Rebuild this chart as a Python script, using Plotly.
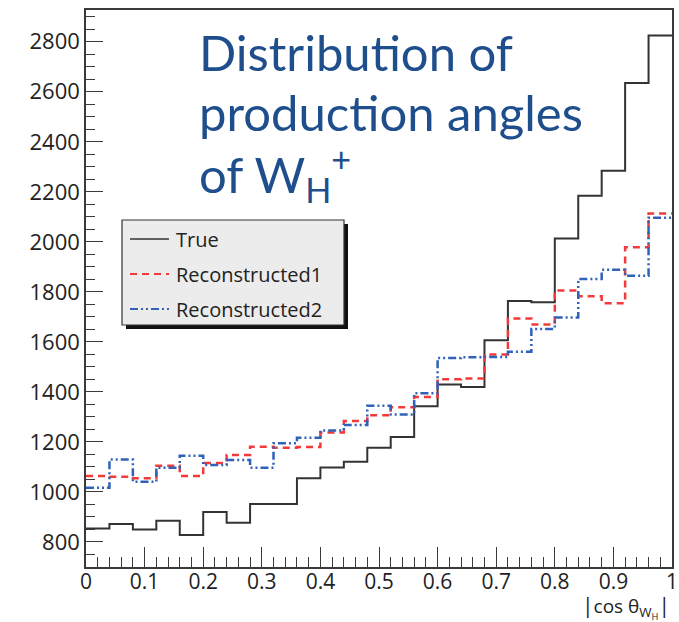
import plotly.graph_objects as go

# ---------------- data ----------------
bin_edges = [round(i * 0.04, 2) for i in range(26)]   # 25 bins on [0, 1]

true_vals = [854, 872, 850, 885, 828, 920, 877, 952, 952, 1055,
             1098, 1121, 1177, 1220, 1343, 1430, 1420, 1607, 1764, 1759,
             2013, 2184, 2284, 2635, 2825]
reco1_vals = [1064, 1061, 1055, 1105, 1064, 1116, 1148, 1181, 1177, 1180,
              1238, 1284, 1307, 1339, 1380, 1451, 1454, 1550, 1694, 1670,
              1806, 1783, 1755, 1978, 2113]
reco2_vals = [1017, 1130, 1041, 1097, 1145, 1108, 1128, 1097, 1195, 1217,
              1246, 1268, 1345, 1310, 1395, 1536, 1539, 1540, 1561, 1652,
              1698, 1851, 1888, 1864, 2096]

series_names = ["True", "Reconstructed1", "Reconstructed2"]

y_tick_vals = [800, 1000, 1200, 1400, 1600, 1800, 2000, 2200, 2400, 2600, 2800]
x_tick_vals = [0, 0.1, 0.2, 0.3, 0.4, 0.5, 0.6, 0.7, 0.8, 0.9, 1.0]
x_tick_text = ["0", "0.1", "0.2", "0.3", "0.4", "0.5", "0.6", "0.7", "0.8", "0.9", "1"]

# ---------------- geometry helpers ----------------
W, H = 679, 622
L, R, T, B = 86, 7, 10, 55
PW, PH = W - L - R, H - T - B


def px(x):
    return (x - L) / PW


def py(y):
    return (H - B - y) / PH


def step(vals):
    return list(vals) + [vals[-1]]


colors = ["#333333", "#f23a3a", "#2f62b8"]
dashes = ["solid", "7px,5px", "8px,3px,2px,3px,2px,3px"]
widths = [2, 2.5, 2.5]

fig = go.Figure()
for name, vals, c, d, w in zip(series_names, [true_vals, reco1_vals, reco2_vals],
                               colors, dashes, widths):
    fig.add_trace(go.Scatter(x=bin_edges, y=step(vals), mode="lines", name=name,
                             line=dict(shape="hv", color=c, dash=d, width=w),
                             showlegend=False, hoverinfo="skip"))

axis_col = "#3a3a3a"
tick_font = dict(family="Open Sans", size=22, color="#222222")

fig.update_xaxes(range=[0, 1], showline=True, linecolor=axis_col, linewidth=1.5, mirror=True,
                 ticks="inside", ticklen=20, tickwidth=1.2, tickcolor=axis_col,
                 tickmode="array", tickvals=x_tick_vals, ticktext=x_tick_text,
                 ticklabelstandoff=-5,
                 minor=dict(dtick=0.02, tick0=0, ticks="inside", ticklen=10,
                            tickcolor=axis_col, tickwidth=1),
                 showgrid=False, zeroline=False,
                 tickfont=dict(family="Open Sans", size=21, color="#222222"))
fig.update_yaxes(range=[700, 2927], showline=True, linecolor=axis_col, linewidth=1.5, mirror=True,
                 ticks="inside", ticklen=17, tickwidth=1.2, tickcolor=axis_col,
                 tickmode="array", tickvals=y_tick_vals,
                 minor=dict(dtick=50, tick0=0, ticks="inside", ticklen=9,
                            tickcolor=axis_col, tickwidth=1),
                 showgrid=False, zeroline=False, tickfont=tick_font)

shapes = []
annotations = []

# legend box with shadow
lx0, lx1, ly0, ly1 = 122, 344, 220, 325
shapes.append(dict(type="rect", xref="paper", yref="paper",
                   x0=px(lx0 + 4), x1=px(lx1 + 4), y0=py(ly1 + 4), y1=py(ly0 + 4),
                   fillcolor="#111111", line=dict(width=0), layer="above"))
shapes.append(dict(type="rect", xref="paper", yref="paper",
                   x0=px(lx0), x1=px(lx1), y0=py(ly1), y1=py(ly0),
                   fillcolor="#ececec", line=dict(color="#333333", width=1.2), layer="above"))
row_y = [239, 274, 309]
for name, c, d, w, ry in zip(series_names, colors, dashes, widths, row_y):
    shapes.append(dict(type="line", xref="paper", yref="paper",
                       x0=px(130), x1=px(169), y0=py(ry), y1=py(ry),
                       line=dict(color=c, dash=d, width=w - 0.5), layer="above"))
    annotations.append(dict(text=name, xref="paper", yref="paper", x=px(174), y=py(ry),
                            xanchor="left", yanchor="middle", showarrow=False,
                            font=dict(family="Open Sans", size=20, color="#222222")))

# big blue title
title_font = dict(family="Lato", size=49, color="#1f4e8c")
for txt, yc in [("Distribution of", 52), ("production angles", 112),
                ("of W<sub>H</sub><sup>+</sup>", 174)]:
    annotations.append(dict(text=txt, xref="paper", yref="paper", x=px(197), y=py(yc),
                            xanchor="left", yanchor="middle", showarrow=False,
                            font=title_font))

# x-axis title
annotations.append(dict(text="<span style='font-size:21px'>|</span>cos θ<sub>W<sub>H</sub></sub><span style='font-size:21px'>|</span>",
                        xref="paper", yref="paper", x=1.0, y=py(607),
                        xanchor="right", yanchor="middle", showarrow=False,
                        font=dict(family="Open Sans", size=19, color="#222222")))

fig.update_layout(width=W, height=H,
                  margin=dict(l=L, r=R, t=T, b=B, autoexpand=False),
                  paper_bgcolor="white", plot_bgcolor="white", showlegend=False,
                  shapes=shapes, annotations=annotations)

fig.write_html("out.html")
